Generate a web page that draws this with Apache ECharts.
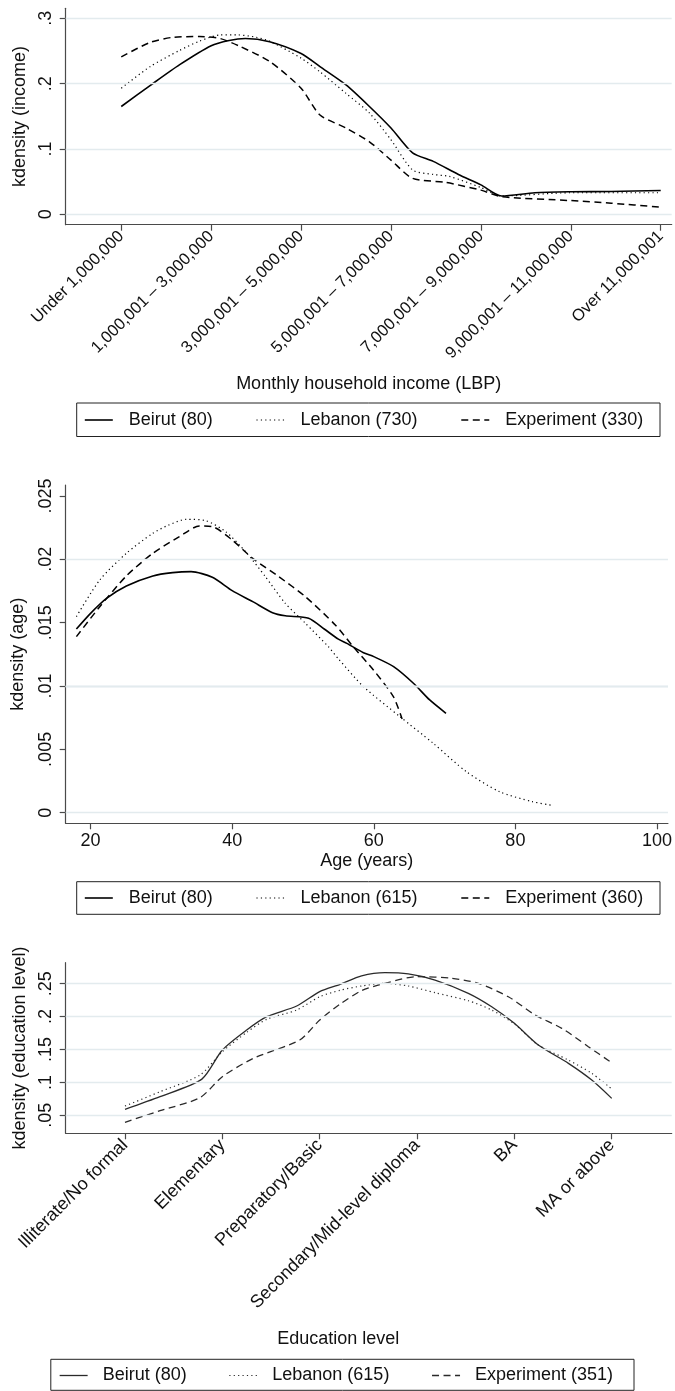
<!DOCTYPE html>
<html>
<head>
<meta charset="utf-8">
<title>Kernel densities: income, age, education</title>
<script src="https://cdn.jsdelivr.net/npm/echarts@6/dist/echarts.min.js"></script>
<style>
  html, body { margin: 0; padding: 0; background: #fff; }
  #chart { width: 675px; height: 1391px; }
</style>
</head>
<body>
<div id="chart"></div>
<script>
// ---- Monthly household income (categories are positioned 0..6) ----
const incomeCategories = ['Under 1,000,000', '1,000,001 – 3,000,000', '3,000,001 – 5,000,000',
  '5,000,001 – 7,000,000', '7,000,001 – 9,000,000', '9,000,001 – 11,000,000', 'Over 11,000,001'];
const incomeTicks = [0, 0.1, 0.2, 0.3];
const incomeBeirut = [[0,.165],[0.32,.197],[0.65,.229],[1,.258],[1.2,.266],[1.38,.269],[1.65,.264],[2,.246],
  [2.21,.226],[2.5,.198],[2.76,.165],[3,.132],[3.24,.094],[3.47,.081],[3.75,.061],[4,.045],[4.23,.028],
  [4.6,.033],[5,.0345],[5.45,.035],[6,.0365]];
const incomeLebanon = [[0,.193],[0.32,.226],[0.65,.251],[0.87,.265],[1.1,.2745],[1.3,.2745],[1.5,.271],
  [1.65,.265],[2,.239],[2.21,.218],[2.5,.185],[2.76,.155],[3,.114],[3.24,.068],[3.47,.061],[3.65,.058],
  [4,.041],[4.23,.028],[5,.033],[6,.033]];
const incomeExperiment = [[0,.241],[0.32,.263],[0.58,.271],[0.87,.272],[1.1,.269],[1.32,.257],[1.65,.234],
  [2,.193],[2.21,.152],[2.5,.132],[2.76,.111],[3,.083],[3.24,.055],[3.6,.049],[4,.037],[4.23,.027],
  [5,.021],[5.45,.017],[6,.011]];

// ---- Age ----
const ageTicksX = [20, 40, 60, 80, 100];
const ageTicksY = [0, 0.005, 0.01, 0.015, 0.02, 0.025];
const ageBeirut = [[18,.0145],[20,.01574],[22.25,.01692],[25.06,.0179],[28.8,.01869],[31.6,.01895],
  [34.2,.01903],[37.2,.01858],[40,.01753],[42.9,.01666],[45.7,.01579],[47.5,.01555],[50.8,.01535],
  [53,.0145],[55,.0137],[56.2,.01337],[58.55,.01263],[60,.01232],[62.8,.01153],[65.6,.01022],
  [67.9,.0089],[70.2,.00785]];
const ageLebanon = [[18,.01548],[21.3,.01837],[25.06,.02048],[28.8,.02206],[31,.0227],[33.5,.02316],
  [36.3,.02305],[39.1,.02218],[41.9,.0206],[44.7,.01863],[47.5,.01653],[50.35,.01495],[53.6,.0131],
  [55,.01215],[58.55,.00995],[63.7,.00758],[68.4,.00548],[73.07,.00324],[77.76,.00166],[82.4,.00087],
  [85,.0006]];
const ageExperiment = [[18,.0139],[21.3,.01626],[25.06,.01869],[28.8,.02048],[32.55,.02179],[35.36,.02263],
  [37.2,.02258],[40,.02153],[42.9,.02008],[46.6,.01863],[50.35,.01705],[54.6,.0148],[57.1,.0131],
  [59.95,.01127],[62.77,.00916],[64,.0074]];

// ---- Education level (categories are positioned 0..5) ----
const eduCategories = ['Illiterate/No formal', 'Elementary', 'Preparatory/Basic',
  'Secondary/Mid-level diploma', 'BA', 'MA or above'];
const eduTicks = [0.05, 0.1, 0.15, 0.2, 0.25];
const eduBeirut = [[0,.0591],[0.36,.0783],[0.79,.105],[1,.1492],[1.25,.1796],[1.456,.1999],[1.764,.2161],
  [2,.2379],[2.21,.249],[2.43,.2617],[2.67,.2667],[2.91,.2648],[3.185,.2556],[3.527,.2354],[3.767,.215],
  [4,.1898],[4.246,.1568],[4.555,.129],[4.795,.1036],[5,.0758]];
const eduLebanon = [[0,.0641],[0.36,.0859],[0.77,.1112],[1,.1467],[1.25,.176],[1.456,.1959],[1.764,.21],
  [2,.2302],[2.21,.24],[2.43,.2465],[2.67,.2506],[2.91,.2465],[3.185,.2363],[3.527,.2241],[3.767,.21],
  [4,.1888],[4.246,.1568],[4.555,.134],[4.795,.1138],[5,.09]];
const eduExperiment = [[0,.0394],[0.36,.057],[0.77,.0768],[1,.1087],[1.318,.1366],[1.795,.1644],[2,.1948],
  [2.21,.2191],[2.43,.2394],[2.67,.2506],[3,.2607],[3.357,.2582],[3.63,.2506],[3.938,.2302],[4.213,.2024],
  [4.487,.1822],[4.76,.1543],[5,.1299]];

const legendIncome = ['Beirut (80)', 'Lebanon (730)', 'Experiment (330)'];
const legendAge = ['Beirut (80)', 'Lebanon (615)', 'Experiment (360)'];
const legendEdu = ['Beirut (80)', 'Lebanon (615)', 'Experiment (351)'];

// ---- styling ----
const FONT = "'Liberation Sans', Arial, Helvetica, sans-serif";
const TXT = '#111';
const AXIS = '#4a4a4a';
const GRID = '#e3ebee';
const FS = 18;

// Stata-style number: leading zero dropped
function stataNum(v) {
  if (Math.abs(v) < 1e-12) return '0';
  return String(+v.toFixed(4)).replace(/^0\./, '.').replace(/^-0\./, '-.');
}

function xAxisBase(grid, min, max, ticks, extra) {
  return Object.assign({
    type: 'value', gridIndex: grid, min: min, max: max,
    axisLine: { show: true, onZero: false, lineStyle: { color: AXIS, width: 1.2 } },
    axisTick: { show: true, customValues: ticks, length: 6, lineStyle: { color: AXIS, width: 1.2 } },
    splitLine: { show: false },
    nameLocation: 'middle',
    nameTextStyle: { color: TXT, fontSize: FS, fontFamily: FONT }
  }, extra);
}
function yAxisBase(grid, min, max, ticks, name, gap) {
  return {
    type: 'value', gridIndex: grid, min: min, max: max,
    axisLine: { show: true, onZero: false, lineStyle: { color: AXIS, width: 1.2 } },
    axisTick: { show: true, customValues: ticks, length: 6, lineStyle: { color: AXIS, width: 1.2 } },
    axisLabel: { customValues: ticks, rotate: 90, margin: 11, color: TXT, fontSize: FS,
      fontFamily: FONT, formatter: stataNum },
    splitLine: { show: false },
    name: name, nameLocation: 'middle', nameGap: gap,
    nameTextStyle: { color: TXT, fontSize: FS, fontFamily: FONT }
  };
}

function gridLines(idx, ticks) {
  return {
    type: 'line', xAxisIndex: idx, yAxisIndex: idx, data: [], z: 1, silent: true,
    markLine: {
      silent: true, symbol: 'none', label: { show: false }, animation: false,
      lineStyle: { color: GRID, width: 1.3, type: 'solid' },
      data: ticks.map(v => ({ yAxis: v }))
    }
  };
}

const LINE_KINDS = {
  solid: thin => ({ type: 'solid', width: thin ? 1.3 : 1.6 }),
  dot: () => ({ type: [1.2, 3.2], width: 1.2 }),
  dash: thin => ({ type: [7, 4.5], width: thin ? 1.3 : 1.5 })
};

function curve(idx, name, data, kind, thin) {
  return {
    type: 'line', name: name, xAxisIndex: idx, yAxisIndex: idx, data: data,
    showSymbol: false, symbol: 'none', smooth: 0.25, z: 3, silent: true,
    lineStyle: Object.assign({ color: thin ? '#2a2a2a' : '#000' }, LINE_KINDS[kind](thin))
  };
}

function legendFor(names, left, top, gap, pad, thin) {
  const kinds = ['solid', 'dot', 'dash'];
  return {
    orient: 'horizontal', left: left, top: top, padding: 0, itemGap: gap,
    itemWidth: 28, itemHeight: 14, selectedMode: false,
    textStyle: { color: TXT, fontSize: FS, fontFamily: FONT, padding: [0, 0, 0, pad], lineHeight: 20 },
    data: names.map((n, i) => ({ name: n,
      itemStyle: { opacity: 0 },
      lineStyle: Object.assign({ color: thin ? '#2a2a2a' : '#000' }, LINE_KINDS[kinds[i]](thin)) }))
  };
}

const option = {
  animation: false,
  backgroundColor: '#fff',
  grid: [
    { left: 65.7, top: 8.3, width: 606, height: 216.4 },
    { left: 65.7, top: 485, width: 605.3, height: 338.3 },
    { left: 65.7, top: 962.7, width: 606, height: 170.6 }
  ],
  xAxis: [
    xAxisBase(0, -0.618, 6.122, [0, 1, 2, 3, 4, 5, 6], {
      axisLabel: { customValues: [0, 1, 2, 3, 4, 5, 6], rotate: 45, margin: 9, color: TXT, fontSize: 16.5,
        fontFamily: FONT, formatter: v => incomeCategories[Math.round(v)] },
      name: 'Monthly household income (LBP)', nameGap: 150
    }),
    xAxisBase(1, 16.49, 101.55, ageTicksX, {
      axisLabel: { customValues: ageTicksX, margin: 9, color: TXT, fontSize: FS, fontFamily: FONT },
      name: 'Age (years)', nameGap: 29
    }),
    xAxisBase(2, -0.609, 5.616, [0, 1, 2, 3, 4, 5], {
      axisLabel: { customValues: [0, 1, 2, 3, 4, 5], rotate: 45, margin: 9, color: TXT, fontSize: FS,
        fontFamily: FONT, formatter: v => eduCategories[Math.round(v)] },
      name: 'Education level', nameGap: 197,
      nameTextStyle: { color: TXT, fontSize: FS, fontFamily: FONT, padding: [0, 61, 0, 0] }
    })
  ],
  yAxis: [
    yAxisBase(0, -0.0159, 0.3153, incomeTicks, 'kdensity (income)', 23),
    yAxisBase(1, -0.000837, 0.02587, ageTicksY, 'kdensity (age)', 39),
    yAxisBase(2, 0.0227, 0.2819, eduTicks, 'kdensity (education level)', 24)
  ],
  legend: [
    legendFor(legendIncome, 84, 410, 43, 11, false),
    legendFor(legendAge, 84, 888, 43, 11, false),
    legendFor(legendEdu, 59, 1365.5, 42, 10, true)
  ],
  graphic: [
    { type: 'rect', shape: { x: 76.7, y: 403, width: 583.3, height: 33.5 },
      style: { fill: 'none', stroke: '#222', lineWidth: 1 }, silent: true },
    { type: 'rect', shape: { x: 76.7, y: 881.7, width: 583.3, height: 32.6 },
      style: { fill: 'none', stroke: '#222', lineWidth: 1 }, silent: true },
    { type: 'rect', shape: { x: 50.8, y: 1359.3, width: 583.2, height: 31 },
      style: { fill: 'none', stroke: '#222', lineWidth: 1 }, silent: true }
  ],
  series: [
    gridLines(0, incomeTicks),
    gridLines(1, ageTicksY),
    gridLines(2, eduTicks),
    curve(0, legendIncome[0], incomeBeirut, 'solid'),
    curve(0, legendIncome[1], incomeLebanon, 'dot'),
    curve(0, legendIncome[2], incomeExperiment, 'dash'),
    curve(1, legendAge[0], ageBeirut, 'solid'),
    curve(1, legendAge[1], ageLebanon, 'dot'),
    curve(1, legendAge[2], ageExperiment, 'dash'),
    curve(2, legendEdu[0], eduBeirut, 'solid', true),
    curve(2, legendEdu[1], eduLebanon, 'dot', true),
    curve(2, legendEdu[2], eduExperiment, 'dash', true)
  ]
};

const chart = echarts.init(document.getElementById('chart'), null, { renderer: 'canvas' });
chart.setOption(option);
</script>
</body>
</html>
